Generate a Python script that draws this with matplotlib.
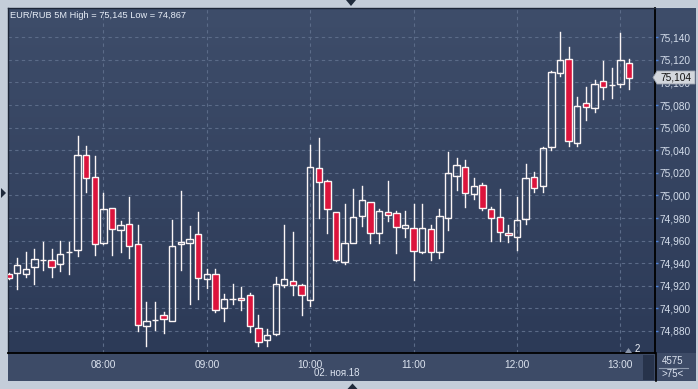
import matplotlib
matplotlib.use("Agg")
import matplotlib.pyplot as plt
import numpy as np
from matplotlib.patches import Rectangle, Polygon
from matplotlib.colors import LinearSegmentedColormap
from matplotlib.lines import Line2D

# ---------------- data (EUR/RUB, 5-minute candles from 07:05 to 13:05) ----------------
opens = [74.930, 74.931, 74.930, 74.937, 74.943, 74.943, 74.939, 74.950, 74.952, 75.036,
         75.016, 74.958, 74.989, 74.969, 74.975, 74.957, 74.884, 74.890, 74.894, 74.889,
         74.957, 74.958, 74.966, 74.926, 74.930, 74.900, 74.908, 74.909, 74.912, 74.883,
         74.872, 74.877, 74.921, 74.924, 74.921, 74.907, 75.024, 75.013, 74.985, 74.941,
         74.958, 74.982, 74.994, 74.967, 74.985, 74.984, 74.971, 74.971, 74.950, 74.970,
         74.950, 74.980, 75.017, 75.025, 75.001, 75.009, 74.988, 74.981, 74.967, 74.963,
         74.979, 75.016, 75.008, 75.043, 75.108, 75.121, 75.046, 75.082, 75.077, 75.101,
         75.098, 75.099, 75.117]
highs = [74.931, 74.945, 74.950, 74.953, 74.959, 74.953, 74.960, 74.959, 75.053, 75.044,
         75.035, 75.002, 74.989, 74.977, 74.999, 74.974, 74.906, 74.906, 74.897, 74.978,
         75.004, 74.973, 74.985, 74.935, 74.935, 74.913, 74.922, 74.919, 74.914, 74.894,
         74.882, 74.928, 74.974, 74.968, 74.922, 75.045, 75.051, 75.014, 74.985, 74.992,
         75.006, 75.008, 74.994, 74.988, 75.013, 74.986, 74.986, 74.992, 74.992, 74.974,
         74.988, 75.038, 75.033, 75.031, 75.015, 75.011, 74.990, 75.006, 74.974, 74.999,
         75.028, 75.021, 75.043, 75.110, 75.145, 75.131, 75.087, 75.096, 75.102, 75.119,
         75.113, 75.144, 75.121]
lows = [74.926, 74.917, 74.928, 74.922, 74.934, 74.928, 74.933, 74.930, 74.946, 75.003,
        74.947, 74.957, 74.947, 74.950, 74.945, 74.880, 74.867, 74.881, 74.878, 74.889,
        74.934, 74.904, 74.908, 74.918, 74.897, 74.889, 74.904, 74.899, 74.879, 74.867,
        74.867, 74.876, 74.919, 74.912, 74.894, 74.902, 74.980, 74.967, 74.942, 74.939,
        74.958, 74.973, 74.958, 74.958, 74.977, 74.949, 74.963, 74.925, 74.949, 74.943,
        74.945, 74.969, 75.005, 74.990, 74.997, 74.987, 74.960, 74.960, 74.959, 74.952,
        74.975, 75.003, 75.003, 75.040, 75.106, 75.044, 75.044, 75.067, 75.074, 75.085,
        75.086, 75.096, 75.094]
closes = [74.927, 74.938, 74.935, 74.944, 74.943, 74.937, 74.948, 74.950, 75.036, 75.015,
          74.957, 74.988, 74.970, 74.974, 74.955, 74.885, 74.889, 74.890, 74.891, 74.955,
          74.959, 74.961, 74.927, 74.930, 74.899, 74.908, 74.908, 74.907, 74.884, 74.870,
          74.876, 74.922, 74.926, 74.921, 74.912, 75.025, 75.012, 74.988, 74.943, 74.958,
          74.981, 74.996, 74.967, 74.986, 74.983, 74.972, 74.974, 74.951, 74.971, 74.950,
          74.982, 75.020, 75.027, 75.002, 75.008, 74.989, 74.980, 74.968, 74.965, 74.978,
          75.015, 75.007, 75.042, 75.109, 75.120, 75.048, 75.079, 75.078, 75.099, 75.096,
          75.098, 75.120, 75.104]
price_ticks = [74.880, 74.900, 74.920, 74.940, 74.960, 74.980, 75.000, 75.020,
               75.040, 75.060, 75.080, 75.100, 75.120, 75.140]
time_tick_labels = ["08:00", "09:00", "10:00", "11:00", "12:00", "13:00"]
date_label = "02. ноя.18"
title = "EUR/RUB 5M High = 75,145 Low = 74,867"
last_price_label = "75,104"
corner_top, corner_bottom = "4575", ">75<"

# ---------------- layout ----------------
W, H = 698, 389
fig = plt.figure(figsize=(W / 100, H / 100), dpi=100)
fig.patch.set_facecolor('#c4cdd9')
plt.rcParams['font.family'] = ['Liberation Sans', 'DejaVu Sans']

def box(x0, y0, x1, y1):
    return [x0 / W, 1 - y1 / H, (x1 - x0) / W, (y1 - y0) / H]

top_col, bot_col = '#3e4d6a', '#2c3a57'
cmap = LinearSegmentedColormap.from_list('bg', [bot_col, top_col])
grad = np.linspace(0, 1, 256).reshape(-1, 1)

# time band
axt = fig.add_axes(box(8, 353, 696, 381))
axt.set_facecolor('#3d4b67')
axt.set_xticks([]); axt.set_yticks([])
for s in axt.spines.values():
    s.set_visible(False)

# right price panel
axr = fig.add_axes(box(655, 8, 696, 353))
axr.imshow(grad, extent=[0, 1, 0, 1], aspect='auto', cmap=cmap, origin='lower')
axr.set_xlim(0, 1); axr.set_ylim(0, 1)
axr.axis('off')

# main axes
ax = fig.add_axes(box(8, 8, 655, 353))
n = len(opens)
times = np.arange(n)
minutes = 7 * 60 + 5 + 5 * times
x0, x1 = -0.067, 75.02
y0, y1 = 74.8605, 75.1659
ax.imshow(grad, extent=[x0, x1, y0, y1], aspect='auto', cmap=cmap, origin='lower', zorder=0)
ax.set_xlim(x0, x1)
ax.set_ylim(y0, y1)

grid_col = '#5b6b88'
for p in price_ticks:
    ax.axhline(p, color=grid_col, lw=0.8, ls=(0, (3, 3)), zorder=1)
tick_pos = [i for i in times if minutes[i] % 60 == 0]
for xp in tick_pos:
    ax.axvline(xp, color=grid_col, lw=0.8, ls=(0, (3, 3)), zorder=1)

bw = 0.74
for i in range(n):
    o, h, l, c = opens[i], highs[i], lows[i], closes[i]
    top, bot = max(o, c), min(o, c)
    ax.add_line(Line2D([i, i], [top, h], color='#fbf5f5', lw=1.0, zorder=3))
    ax.add_line(Line2D([i, i], [l, bot], color='#fbf5f5', lw=1.0, zorder=3))
    fc = 'none' if c >= o else '#dc143c'
    ax.add_patch(Rectangle((i - bw / 2, bot), bw, max(top - bot, 1e-6),
                           facecolor=fc, edgecolor='#fbf5f5', lw=1.0, zorder=4))

ax.yaxis.tick_right()
ax.set_yticks(price_ticks)
ax.set_yticklabels([f"{p:.3f}".replace('.', ',') for p in price_ticks])
ax.tick_params(axis='y', length=2, width=1, color='#4f82d6', pad=1.5,
               labelsize=7.3, labelcolor='#d3dcea')
ax.set_xticks(tick_pos)
ax.set_xticklabels(time_tick_labels)
ax.tick_params(axis='x', length=0, pad=5, labelsize=7.3, labelcolor='#dce3ef')

for side in ['left', 'top']:
    ax.spines[side].set_color('#1d2638')
    ax.spines[side].set_linewidth(1)
ax.spines['right'].set_color('black'); ax.spines['right'].set_linewidth(1.3)
ax.spines['bottom'].set_color('black'); ax.spines['bottom'].set_linewidth(1.3)

# continuation of right black line through the time band
fig.add_artist(Line2D([655.5 / W, 655.5 / W], [1 - 353 / H, 1 - 381 / H], color='black', lw=1.2))
fig.add_artist(Rectangle((642.7 / W, 1 - 380 / H), 11.5 / W, 25 / H, transform=fig.transFigure,
                         facecolor='#27334b', edgecolor='none'))

# title
fig.text(10 / W, 1 - 15.5 / H, title, color='#e6ecf6', fontsize=6.7, va='center', ha='left')

# date label
fig.text(337 / W, 1 - 373.5 / H, date_label, color='#dce3ef', fontsize=7, va='center', ha='center')

# corner box texts
fig.text(673 / W, 1 - 361.5 / H, corner_top, color='#dce3ef', fontsize=7, va='center', ha='center')
fig.text(673 / W, 1 - 374 / H, corner_bottom, color='#dce3ef', fontsize=7, va='center', ha='center')
fig.add_artist(Line2D([659 / W, 688 / W], [1 - 367.7 / H, 1 - 367.7 / H], color='#8d99ad', lw=0.8))

# last price marker
yb = 77.5
poly = [(653, yb), (657, 71), (695, 71), (695, 84), (657, 84)]
fig.add_artist(Polygon([(px / W, 1 - py / H) for px, py in poly], closed=True,
                       transform=fig.transFigure, facecolor='#d3d7dd', edgecolor='#9aa2ae', lw=0.6,
                       zorder=5))
fig.text(676 / W, 1 - yb / H, last_price_label, color='#111111', fontsize=7.3, va='center',
         ha='center', zorder=6)

# small "2" marker bottom right of plot
fig.add_artist(Polygon([(625 / W, 1 - 353 / H), (632 / W, 1 - 353 / H), (628.5 / W, 1 - 348 / H)],
                       closed=True, transform=fig.transFigure, facecolor='#8a96aa', edgecolor='none'))
fig.text(637 / W, 1 - 348.5 / H, "2", color='#eef2f8', fontsize=7, va='center', ha='center')

# navigation triangles on frame
tri_col = '#1f2a3b'
fig.add_artist(Polygon([(346 / W, 1.0), (356 / W, 1.0), (351 / W, 1 - 6 / H)], closed=True,
                       transform=fig.transFigure, facecolor=tri_col, edgecolor='none'))
fig.add_artist(Polygon([(1 / W, 1 - 188 / H), (1 / W, 1 - 198 / H), (6 / W, 1 - 193 / H)], closed=True,
                       transform=fig.transFigure, facecolor=tri_col, edgecolor='none'))
fig.add_artist(Polygon([(347.5 / W, 1 - 389 / H), (357.5 / W, 1 - 389 / H), (352.5 / W, 1 - 383.5 / H)],
                       closed=True, transform=fig.transFigure, facecolor=tri_col, edgecolor='none'))

fig.savefig('out.png', dpi=100, facecolor=fig.get_facecolor())
